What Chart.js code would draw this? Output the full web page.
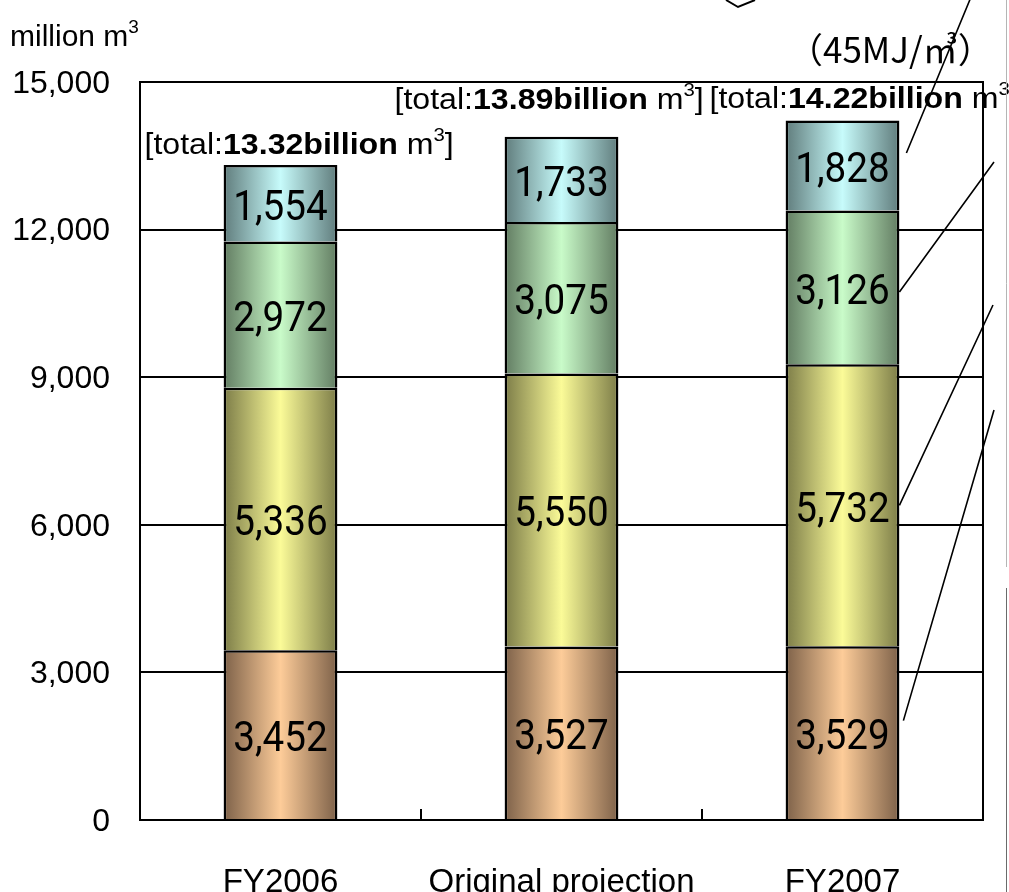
<!DOCTYPE html>
<html>
<head>
<meta charset="utf-8">
<title>Gas sales volume</title>
<script src="https://cdn.jsdelivr.net/npm/chart.js@4.4.1/dist/chart.umd.min.js"></script>
<style>
  html, body { margin: 0; padding: 0; background: #fff; }
</style>
</head>
<body>
<canvas id="salesChart" width="1009" height="892"></canvas>
<script>
// Categories and stacked volumes (million m3), bottom segment first
const categories = ['FY2006', 'Original projection', 'FY2007'];
const seriesA = [3452, 3527, 3529];
const seriesB = [5336, 5550, 5732];
const seriesC = [2972, 3075, 3126];
const seriesD = [1554, 1733, 1828];
const seriesNames = ['Segment A', 'Segment B', 'Segment C', 'Segment D'];

// totals as printed above each bar (billion m3)
const totalLabels = ['13.32', '13.89', '14.22'];

const yMin = 0;
const yMax = 15000;
const yStep = 3000;

// edge (dark) and centre (bright) colour of each segment's gradient
const fillColors = [
  ['#7d6149', '#fdcc99'],
  ['#7c7c48', '#fbfb98'],
  ['#627c62', '#c9fbc9'],
  ['#607c7c', '#c7fbfb']
];

const BAR_PCT = 0.405;
const FONT = '"Liberation Sans", Arial, sans-serif';
const JP_FONT = '"Noto Sans CJK JP", "Noto Sans", sans-serif';
const NUM_FONT = 'Roboto, "Liberation Sans", sans-serif';

const fmt = v => v.toLocaleString('en-US');

// horizontal gradient across one bar: dark edges, light middle
function barGradient(context, i) {
  const chart = context.chart;
  const xs = chart.scales.x;
  if (!chart.chartArea || !xs || context.dataIndex === undefined) return fillColors[i][1];
  const cx = xs.getPixelForValue(context.dataIndex);
  const half = xs.width / categories.length * BAR_PCT / 2;
  const g = chart.ctx.createLinearGradient(cx - half, 0, cx + half, 0);
  g.addColorStop(0, fillColors[i][0]);
  g.addColorStop(0.5, fillColors[i][1]);
  g.addColorStop(1, fillColors[i][0]);
  return g;
}

const datasets = [seriesA, seriesB, seriesC, seriesD].map((data, i) => ({
  label: seriesNames[i],
  data: data,
  backgroundColor: ctx => barGradient(ctx, i),
  borderColor: '#000',
  borderWidth: 2.5
}));

// plot frame and the small inner ticks between categories
const framePlugin = {
  id: 'frame',
  afterDatasetsDraw(chart) {
    const { ctx, chartArea: a, scales: { x } } = chart;
    ctx.save();
    ctx.strokeStyle = '#000';
    ctx.lineWidth = 2;
    ctx.strokeRect(a.left, a.top, a.right - a.left, a.bottom - a.top);
    ctx.beginPath();
    for (let i = 0; i < categories.length - 1; i++) {
      const bx = Math.round((x.getPixelForValue(i) + x.getPixelForValue(i + 1)) / 2);
      ctx.moveTo(bx, a.bottom - 11);
      ctx.lineTo(bx, a.bottom);
    }
    ctx.stroke();
    ctx.restore();
  }
};

// value in the middle of every segment (tall, slightly narrowed digits)
const valueLabels = {
  id: 'valueLabels',
  afterDatasetsDraw(chart) {
    const ctx = chart.ctx;
    ctx.save();
    ctx.font = '42px ' + NUM_FONT;
    ctx.fillStyle = '#000';
    ctx.textAlign = 'center';
    ctx.textBaseline = 'middle';
    chart.data.datasets.forEach((ds, di) => {
      chart.getDatasetMeta(di).data.forEach((el, i) => {
        ctx.save();
        ctx.translate(el.x, (el.y + el.base) / 2 + 6);
        ctx.scale(0.92, 1);
        ctx.fillText(fmt(ds.data[i]), 0, 0);
        ctx.restore();
      });
    });
    ctx.restore();
  }
};

// draw a run of text pieces (regular / bold / superscript) from a left point
function drawRich(ctx, x, y, parts, size) {
  parts.forEach(p => {
    const s = p.sup ? Math.round(size * 0.62) : size;
    ctx.font = (p.bold ? 'bold ' : '') + s + 'px ' + FONT;
    ctx.fillText(p.t, x, p.sup ? y - size * 0.33 : y);
    x += ctx.measureText(p.t).width;
  });
}

// offsets of each "[total: ...]" box from its bar's centre / top
const totalOffsets = [[-136, -19], [-167, -36], [-133, -21]];

const totalsPlugin = {
  id: 'totals',
  afterDatasetsDraw(chart) {
    const ctx = chart.ctx;
    const top = chart.getDatasetMeta(chart.data.datasets.length - 1).data;
    ctx.save();
    ctx.fillStyle = '#000';
    ctx.textAlign = 'left';
    ctx.textBaseline = 'middle';
    top.forEach((el, i) => {
      const [dx, dy] = totalOffsets[i];
      ctx.save();
      ctx.translate(el.x + dx, el.y + dy);
      ctx.scale(1.07, 1);
      drawRich(ctx, 0, 0, [
        { t: '[total:' },
        { t: totalLabels[i] + 'billion', bold: true },
        { t: ' m' },
        { t: '3', sup: true },
        { t: ']' }
      ], 30);
      ctx.restore();
    });
    ctx.restore();
  }
};

// unit caption, heating value note and leader lines running off to the right
const extrasPlugin = {
  id: 'extras',
  afterDraw(chart) {
    const ctx = chart.ctx;
    ctx.save();
    ctx.fillStyle = '#000';
    ctx.textBaseline = 'middle';
    ctx.textAlign = 'left';
    drawRich(ctx, 10, 38, [{ t: 'million m' }, { t: '3', sup: true }], 30);

    ctx.font = '35px ' + JP_FONT;
    ctx.fillText('（45MJ/㎥）', 788, 50);

    // leader lines from the FY2007 segments
    const last = categories.length - 1;
    const leaders = [
      { ds: 3, frac: 0.36, dx: 7, to: [976, -15] },
      { ds: 2, frac: 0.53, dx: 0, to: [994, 162] },
      { ds: 1, frac: 0.50, dx: 0, to: [993, 305] },
      { ds: 0, frac: 0.43, dx: 4, to: [994, 410] }
    ];
    ctx.strokeStyle = '#000';
    ctx.lineWidth = 1.6;
    ctx.beginPath();
    leaders.forEach(l => {
      const el = chart.getDatasetMeta(l.ds).data[last];
      const sx = el.x + el.width / 2 + l.dx;
      const sy = el.y + (el.base - el.y) * l.frac;
      ctx.moveTo(sx, sy);
      ctx.lineTo(l.to[0], l.to[1]);
    });
    ctx.stroke();

    // corner of a shape above the chart
    ctx.lineWidth = 2;
    ctx.beginPath();
    ctx.moveTo(726, 0);
    ctx.lineTo(738, 7);
    ctx.lineTo(755, 0);
    ctx.stroke();

    // neighbouring frame edges
    ctx.lineWidth = 1;
    ctx.strokeStyle = '#b5b5b5';
    ctx.beginPath();
    ctx.moveTo(1006.5, 0);
    ctx.lineTo(1006.5, 567);
    ctx.stroke();
    ctx.strokeStyle = '#6a6a6a';
    ctx.beginPath();
    ctx.moveTo(1006.5, 588);
    ctx.lineTo(1006.5, 892);
    ctx.stroke();
    ctx.restore();
  }
};

new Chart(document.getElementById('salesChart'), {
  type: 'bar',
  data: { labels: categories, datasets: datasets },
  options: {
    responsive: false,
    animation: false,
    events: [],
    layout: { padding: { top: 82, right: 26, left: 0, bottom: 0 } },
    datasets: {
      bar: { barPercentage: BAR_PCT, categoryPercentage: 1.0 }
    },
    plugins: {
      legend: { display: false },
      tooltip: { enabled: false }
    },
    scales: {
      x: {
        stacked: true,
        grid: { display: false },
        border: { display: false },
        ticks: { color: '#000', font: { family: FONT, size: 33 }, padding: 35, maxRotation: 0 },
        afterFit: s => { s.height = 72; }
      },
      y: {
        stacked: true,
        min: yMin,
        max: yMax,
        grid: { color: '#000', lineWidth: 2, drawTicks: false },
        border: { display: false },
        ticks: {
          stepSize: yStep,
          color: '#000',
          font: { family: FONT, size: 32 },
          padding: 30,
          labelOffset: 2,
          callback: v => fmt(v)
        },
        afterFit: s => { s.width = 140; }
      }
    }
  },
  plugins: [framePlugin, valueLabels, totalsPlugin, extrasPlugin]
});
</script>
</body>
</html>
